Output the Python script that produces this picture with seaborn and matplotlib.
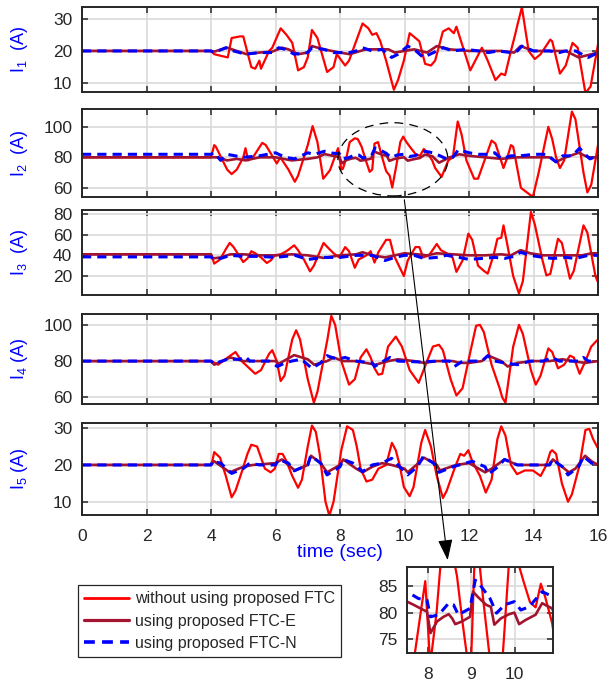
import matplotlib
matplotlib.use("Agg")
import matplotlib.pyplot as plt
import matplotlib.patches as mpatches
from matplotlib.lines import Line2D
import pandas as pd
import seaborn as sns

# --- data: (time [s], current [A]) -------------------------------------------
time_ticks = [0, 2, 4, 6, 8, 10, 12, 14, 16]
methods = ["without using proposed FTC", "using proposed FTC-E", "using proposed FTC-N"]

red_1 = [(0, 20), (4.0, 20), (4.1, 19), (4.3, 18.5), (4.52, 18), (4.64, 24), (4.9, 24.5), (5.0, 24.5),
         (5.25, 15), (5.37, 14.5), (5.5, 17), (5.55, 14.5), (5.8, 20), (5.9, 21), (6.16, 27), (6.34, 25),
         (6.52, 22.5), (6.7, 14), (6.88, 15), (7.0, 18), (7.13, 26.5), (7.3, 24), (7.6, 13.5), (7.8, 15),
         (7.9, 19), (8.16, 15.5), (8.28, 17), (8.7, 28.5), (8.88, 27), (9.0, 25), (9.13, 25.5), (9.25, 23),
         (9.43, 17), (9.67, 8), (9.8, 11), (9.98, 17), (10.16, 25.5), (10.34, 24), (10.46, 23), (10.64, 16),
         (10.82, 15.5), (10.95, 17), (11.19, 26), (11.37, 27), (11.53, 25.5), (11.61, 27.5), (11.85, 20),
         (12.04, 14), (12.4, 21), (12.58, 17), (12.82, 11), (13.0, 13), (13.12, 12.5), (13.3, 20), (13.43, 25),
         (13.5, 28), (13.64, 33.5), (13.85, 20), (14.04, 17.5), (14.22, 19), (14.52, 23.5), (14.58, 23),
         (14.82, 13), (15.0, 15.5), (15.21, 22.5), (15.37, 21), (15.61, 7), (15.77, 9), (16.0, 22)]
darkred_1 = [(0, 20), (4.0, 20), (4.1, 19.8), (4.5, 21), (4.8, 20), (5.1, 19), (5.5, 19.5), (5.9, 19.8),
             (6.2, 21), (6.4, 20.5), (6.7, 19), (7.0, 19.5), (7.13, 21.5), (7.5, 20.5), (8.0, 19.5), (8.3, 19),
             (8.8, 20.5), (9.1, 20.5), (9.5, 20.5), (9.7, 19.5), (10.0, 20), (10.3, 20.5), (10.7, 19.5),
             (11.0, 21.5), (11.4, 20.5), (12.0, 20), (12.5, 20), (13.0, 20), (13.4, 19.5), (13.6, 21.5),
             (14.0, 20), (14.6, 20), (15.0, 20), (15.4, 18), (15.6, 18.5), (16, 19.5)]
blue_1 = [(0, 20), (4.0, 20), (4.1, 19.5), (4.46, 21), (4.7, 20), (5.07, 19), (5.5, 19.5), (5.9, 19.5),
          (6.1, 21), (6.3, 20.5), (6.58, 19), (7.0, 19.5), (7.13, 21), (7.5, 20.5), (7.8, 19.5), (8.3, 19.5),
          (8.5, 20), (8.7, 21), (9.0, 20), (9.3, 20.5), (9.6, 18), (9.8, 19), (10.1, 21.5), (10.3, 20.5),
          (10.58, 18), (10.9, 19.5), (11.2, 21), (11.5, 20), (11.9, 20.5), (12.3, 20), (12.6, 19.5),
          (12.9, 20), (13.3, 19.5), (13.5, 20), (13.64, 21.5), (14.0, 20), (14.5, 20), (14.8, 19.5),
          (15.0, 20), (15.3, 20), (15.5, 19), (15.7, 18), (16, 19.5)]

red_2 = [(0, 80), (4.0, 80), (4.1, 88), (4.15, 87), (4.5, 72), (4.64, 69), (4.8, 72), (5.0, 80), (5.07, 86),
         (5.15, 78), (5.3, 80), (5.59, 89.5), (5.7, 88), (6.04, 76), (6.15, 80), (6.4, 72), (6.6, 64),
         (6.7, 68), (7.0, 88), (7.15, 100.5), (7.3, 90), (7.48, 66), (7.69, 71.6), (7.8, 78), (7.94, 86),
         (8.04, 72), (8.09, 72.5), (8.2, 80), (8.3, 90), (8.46, 92.5), (8.55, 92), (8.67, 87), (8.8, 78),
         (8.92, 70.5), (9.0, 72), (9.07, 89), (9.18, 90), (9.28, 82), (9.43, 71), (9.54, 68), (9.62, 60.2),
         (9.75, 75), (9.87, 90), (9.96, 93.6), (10.06, 90), (10.2, 86), (10.35, 82), (10.48, 81),
         (10.6, 85.5), (10.7, 83), (10.86, 78), (10.95, 73), (11.15, 67.2), (11.36, 78), (11.5, 80),
         (11.65, 103.5), (11.77, 95), (11.92, 78), (12.16, 66), (12.28, 66), (12.7, 91), (12.82, 89),
         (13.07, 73), (13.19, 80), (13.3, 88), (13.37, 87), (13.61, 60), (13.98, 54), (14.16, 70),
         (14.46, 100), (14.58, 92), (14.7, 80), (14.82, 73), (14.95, 78), (15.19, 110), (15.3, 105),
         (15.55, 70), (15.67, 57), (15.79, 62), (16.0, 88)]
darkred_2 = [(0, 80), (4.0, 80), (4.2, 80), (4.5, 78), (4.8, 79), (5.07, 78), (5.5, 80), (6.0, 80), (6.5, 78),
             (7.0, 79), (7.3, 80), (7.52, 82.1), (7.67, 81.5), (7.9, 80.5), (7.98, 80.2), (8.06, 76.1),
             (8.21, 78.3), (8.36, 79.2), (8.48, 79.7), (8.56, 78.9), (8.63, 77.8), (8.78, 78.3), (8.97, 79.2),
             (9.04, 84), (9.15, 83), (9.34, 81.5), (9.45, 81.1), (9.53, 77.7), (9.68, 78.9), (9.87, 79.7),
             (9.99, 80), (10.1, 77.8), (10.25, 78.6), (10.48, 79.6), (10.63, 81.8), (10.74, 81.3),
             (10.86, 80.8), (11.07, 76.5), (11.4, 80), (11.7, 82), (12.0, 81), (12.5, 80), (13.0, 79),
             (13.5, 80), (14.0, 80), (14.5, 80), (14.7, 77), (15.0, 80), (15.4, 83), (15.7, 80), (16, 80)]
blue_2 = [(0, 82), (4.0, 82), (4.1, 83), (4.3, 78), (4.5, 82), (5.0, 80), (5.5, 81), (6.0, 83), (6.3, 80),
          (6.6, 79), (7.0, 83), (7.2, 82), (7.52, 84), (7.78, 82.7), (7.98, 82.4), (8.06, 79.2), (8.25, 79.6),
          (8.48, 81.8), (8.59, 81.5), (8.7, 79.6), (8.97, 80.8), (9.09, 86.2), (9.2, 85.3), (9.43, 82.7),
          (9.58, 79.9), (9.77, 81.5), (9.99, 82.1), (10.14, 80.5), (10.33, 81.1), (10.63, 84), (10.86, 83.1),
          (11.0, 82), (11.3, 79), (11.5, 80), (11.67, 85), (12.0, 83), (12.3, 82), (12.6, 82), (12.8, 83),
          (13.0, 79), (13.3, 81), (13.6, 81), (14.0, 82), (14.4, 82), (14.7, 77), (14.9, 81), (15.2, 81),
          (15.43, 86), (15.6, 82), (15.75, 79), (16, 81)]

red_3 = [(0, 41), (4.0, 41), (4.04, 38), (4.1, 32), (4.28, 36), (4.46, 46), (4.58, 52), (4.7, 48), (5.0, 33.5),
         (5.13, 37), (5.25, 44), (5.37, 42), (5.55, 38), (5.73, 32.6), (5.85, 35), (5.98, 40), (6.16, 41),
         (6.34, 44), (6.58, 49.7), (6.7, 45), (6.88, 36), (7.07, 24.5), (7.19, 30), (7.49, 52), (7.61, 48),
         (7.8, 42), (7.98, 38), (8.16, 48), (8.28, 44), (8.46, 28), (8.58, 36), (8.82, 40), (8.95, 44),
         (9.07, 33), (9.19, 43), (9.43, 55), (9.55, 55), (9.67, 40), (9.98, 20), (10.1, 35), (10.34, 48),
         (10.46, 48), (10.58, 38), (10.76, 40), (11.0, 51), (11.13, 45), (11.31, 42), (11.49, 38),
         (11.61, 24), (11.8, 35), (11.98, 61), (12.1, 55), (12.28, 30), (12.46, 25), (12.58, 22.3),
         (12.76, 40), (12.88, 56), (13.0, 57), (13.07, 69), (13.19, 50), (13.37, 20), (13.55, 3),
         (13.67, 15), (13.92, 82), (14.04, 70), (14.28, 35), (14.4, 20.6), (14.52, 22), (14.76, 56),
         (14.88, 52), (15.13, 17.4), (15.25, 25), (15.55, 69), (15.67, 62), (15.92, 20), (16.0, 14)]
darkred_3 = [(0, 41), (4.0, 41), (4.05, 37), (4.3, 38), (4.6, 41), (5.0, 41), (5.5, 40), (6.0, 40), (6.5, 41),
             (7.0, 40), (7.5, 37.5), (8.0, 40), (8.5, 41), (8.7, 43), (9.0, 40), (9.4, 38), (9.7, 40),
             (10.0, 42), (10.4, 41), (10.7, 40), (11.0, 42), (11.5, 41), (12.0, 40), (12.5, 40), (13.0, 41),
             (13.3, 40), (13.6, 45), (13.9, 42), (14.3, 40), (14.7, 40), (15.0, 40), (15.5, 40), (15.8, 42),
             (16, 42)]
blue_3 = [(0, 38.5), (4.0, 38.5), (4.1, 36), (4.3, 37), (4.6, 40), (5.0, 39), (5.5, 39), (6.0, 38), (6.6, 40),
          (7.0, 36), (7.5, 38), (8.0, 38), (8.5, 40), (9.0, 40), (9.4, 35), (9.7, 38), (10.0, 40), (10.3, 40),
          (10.6, 37), (11.0, 38), (11.3, 40), (11.7, 38), (12.0, 36), (12.4, 37), (12.8, 38), (13.1, 37),
          (13.4, 39), (13.6, 43), (13.9, 40), (14.3, 38), (14.6, 37), (15.0, 38), (15.3, 37), (15.7, 40),
          (16, 40)]

red_4 = [(0, 80), (4.0, 80), (4.22, 78), (4.52, 82), (4.76, 85), (4.95, 80), (5.07, 78), (5.19, 76),
         (5.37, 73), (5.55, 75), (5.8, 84), (5.9, 86), (6.04, 80), (6.16, 69), (6.28, 72), (6.52, 92),
         (6.64, 97), (6.76, 92), (7.0, 70), (7.19, 57), (7.3, 63), (7.61, 92), (7.73, 105), (7.85, 100),
         (8.04, 80), (8.28, 67), (8.46, 70), (8.64, 82), (8.82, 86.5), (8.95, 82), (9.07, 76), (9.19, 72.5),
         (9.31, 73), (9.49, 88), (9.73, 93.5), (9.92, 88), (10.16, 75), (10.44, 68), (10.7, 80), (10.88, 88),
         (11.07, 89), (11.19, 86), (11.43, 70), (11.61, 61), (11.8, 65), (12.04, 85), (12.22, 99.5),
         (12.34, 100), (12.46, 96), (12.7, 78), (12.95, 65), (13.03, 60), (13.13, 57), (13.37, 88),
         (13.55, 100), (13.67, 95), (13.92, 75), (14.07, 67), (14.22, 72), (14.46, 87), (14.58, 85),
         (14.76, 76), (14.95, 78), (15.13, 83), (15.25, 82), (15.43, 73), (15.61, 80), (15.79, 88), (16.0, 92)]
darkred_4 = [(0, 80), (4.0, 80), (4.1, 78), (4.6, 82), (5.0, 80), (6.0, 80), (6.1, 78.5), (6.58, 83.3),
             (7.0, 81), (7.2, 78), (7.6, 80), (7.8, 82), (8.1, 80), (8.5, 80), (9.1, 78), (9.5, 80), (9.8, 81),
             (10.3, 80), (10.6, 79), (11.0, 80), (11.5, 80), (11.7, 79), (12.0, 79), (12.4, 80), (12.6, 83),
             (13.0, 80), (13.2, 77), (13.5, 79), (14.0, 80), (14.5, 80), (14.9, 81), (15.2, 80), (15.6, 79),
             (16, 80)]
blue_4 = [(0, 80), (4.0, 80), (4.1, 78.5), (4.5, 81), (4.9, 81), (5.07, 82.5), (5.2, 80), (5.8, 80),
          (6.06, 77), (6.3, 79), (6.5, 80), (6.8, 81), (7.0, 78), (7.13, 76), (7.4, 79), (7.6, 83), (7.9, 81),
          (8.16, 82), (8.5, 80), (9.0, 79), (9.07, 77), (9.3, 79.5), (9.55, 82), (9.8, 80), (10.5, 79.5),
          (11.0, 80), (11.4, 80), (11.55, 77), (11.8, 80), (12.4, 80), (12.58, 83), (12.8, 80), (13.1, 79),
          (13.5, 78), (13.9, 80), (14.3, 80), (14.58, 82), (14.8, 80), (15.1, 80), (15.4, 80), (15.55, 82),
          (15.7, 80), (16, 80)]

red_5 = [(0, 20), (4.0, 20), (4.04, 21), (4.1, 23.5), (4.28, 22), (4.46, 17), (4.64, 11.2), (4.76, 13),
         (4.95, 18), (5.13, 23), (5.25, 25.5), (5.43, 25), (5.55, 22), (5.67, 19), (5.85, 18), (5.98, 19),
         (6.1, 23), (6.22, 23), (6.34, 21), (6.52, 17), (6.7, 13.8), (6.82, 16), (7.0, 25), (7.13, 30.7),
         (7.25, 29), (7.37, 23), (7.55, 10), (7.67, 6.2), (7.8, 10), (8.04, 24), (8.22, 30.5), (8.4, 29.5),
         (8.52, 25), (8.64, 19), (8.82, 15.5), (9.0, 16), (9.19, 19), (9.43, 20), (9.55, 24), (9.61, 26),
         (9.73, 24), (9.85, 20), (9.98, 14), (10.16, 11.5), (10.28, 14), (10.52, 26), (10.64, 29.5),
         (10.82, 25), (11.0, 17), (11.19, 11), (11.31, 13), (11.55, 19), (11.73, 23), (11.85, 22.5),
         (11.98, 24), (12.1, 21), (12.34, 17), (12.52, 12.5), (12.7, 16), (12.88, 27), (13.0, 30.5),
         (13.13, 28), (13.3, 20), (13.49, 17.5), (13.73, 18.5), (13.98, 18.5), (14.22, 17), (14.4, 20),
         (14.52, 23.5), (14.58, 24), (14.7, 23), (14.88, 15), (15.07, 10), (15.19, 12), (15.43, 20),
         (15.61, 29.5), (15.73, 29.8), (15.85, 27), (16.0, 24.5)]
darkred_5 = [(0, 20), (4.0, 20), (4.1, 21), (4.58, 18), (5.0, 19.5), (5.3, 20), (6.0, 20.5), (6.2, 21.5),
             (6.6, 18.5), (7.0, 20), (7.1, 22.5), (7.4, 20.5), (7.6, 18), (8.0, 20), (8.1, 21.5), (8.5, 19),
             (8.7, 18), (9.0, 19.5), (9.3, 20.5), (9.6, 20), (10.0, 19), (10.1, 18), (10.5, 21), (10.6, 22),
             (11.0, 20), (11.1, 18.5), (11.6, 20), (12.0, 20.5), (12.5, 18), (12.7, 19), (13.1, 21.5),
             (13.5, 20), (14.5, 20), (14.6, 21.5), (15.1, 18), (15.3, 19), (15.6, 22.5), (15.8, 21), (16, 20)]
blue_5 = [(0, 20), (4.0, 20), (4.04, 21), (4.3, 20.5), (4.64, 17.7), (5.0, 19), (5.2, 20.5), (5.5, 20),
          (6.0, 20), (6.1, 21.5), (6.4, 20.5), (6.58, 18.4), (7.0, 20), (7.09, 22.5), (7.4, 20.5), (7.6, 17.3),
          (8.0, 19.5), (8.1, 21.5), (8.4, 20.5), (8.7, 18.2), (9.0, 20), (9.3, 20.5), (9.6, 21.8), (9.8, 20),
          (10.1, 17.3), (10.4, 19.5), (10.58, 22.3), (10.9, 20.5), (11.07, 18), (11.5, 19.5), (11.9, 20.5),
          (12.1, 21), (12.5, 19.5), (12.6, 17.5), (12.9, 19.5), (13.1, 21.5), (13.5, 20), (14.0, 20),
          (14.5, 20), (14.58, 21.5), (14.9, 19.5), (15.07, 17.3), (15.4, 19.5), (15.55, 22.3), (15.8, 20.5),
          (16, 20)]

panels = [
    # (series, ylabel, yticks, ylim)
    ((red_1, darkred_1, blue_1), "I$_1$  (A)", [10, 20, 30], (7.3, 33.6)),
    ((red_2, darkred_2, blue_2), "I$_2$  (A)", [60, 80, 100], (54, 111.7)),
    ((red_3, darkred_3, blue_3), "I$_3$  (A)", [20, 40, 60, 80], (1.6, 83.9)),
    ((red_4, darkred_4, blue_4), "I$_4$ (A)", [60, 80, 100], (56.3, 106)),
    ((red_5, darkred_5, blue_5), "I$_5$ (A)", [10, 20, 30], (6.4, 31.4)),
]
inset_xticks = [8, 9, 10]
inset_yticks = [75, 80, 85]

# --- style -------------------------------------------------------------------
sns.set_style("ticks")
plt.rcParams["font.family"] = ["Liberation Sans", "DejaVu Sans"]
plt.rcParams["mathtext.fontset"] = "custom"
plt.rcParams["mathtext.rm"] = "Liberation Sans"
plt.rcParams["mathtext.it"] = "Liberation Sans"

FG = "#262626"
palette = {methods[0]: "#ff0000", methods[1]: "#a2142f", methods[2]: "#0000ff"}
widths = {methods[0]: 1.6, methods[1]: 1.9, methods[2]: 2.2}
dashes = {methods[0]: "", methods[1]: "", methods[2]: (3, 2)}

W, H = 614, 683
fig = plt.figure(figsize=(W / 100, H / 100), dpi=100)


def px_axes(x0, y_top, x1, y_bot):
    return fig.add_axes([x0 / W, 1 - y_bot / H, (x1 - x0) / W, (y_bot - y_top) / H])


def to_frame(series):
    rows = []
    for name, pts in zip(methods, series):
        for t, v in pts:
            rows.append({"time": t, "current": v, "method": name})
    return pd.DataFrame(rows)


def style_axes(ax, fs=12.5):
    ax.grid(True, color="#dadada", lw=1.2)
    ax.set_axisbelow(True)
    for sp in ax.spines.values():
        sp.set_color(FG)
        sp.set_linewidth(1.4)
    ax.tick_params(direction="in", top=True, right=True, length=4.5, width=1.1, color=FG,
                   labelcolor=FG, labelsize=fs)
    ax.tick_params(axis="x", pad=10)
    ax.tick_params(axis="y", pad=7)


def draw(ax, df):
    sns.lineplot(data=df, x="time", y="current", hue="method", size="method", style="method",
                 palette=palette, sizes=widths, dashes=dashes, estimator=None, sort=False,
                 legend=False, ax=ax)


panel_px = [(7, 92), (109, 197), (210, 295), (314, 404), (423, 515)]
axes = []
for (series, ylabel, yticks, ylim), (top, bot) in zip(panels, panel_px):
    ax = px_axes(82, top, 598, bot)
    draw(ax, to_frame(series))
    ax.set_xlim(0, 16)
    ax.set_ylim(*ylim)
    ax.set_xticks(time_ticks)
    ax.set_yticks(yticks)
    style_axes(ax)
    ax.set_xlabel("")
    ax.set_ylabel(ylabel, color="#0000ff", fontsize=13)
    ax.yaxis.set_label_coords(-0.1, 0.5)
    axes.append(ax)

for ax in axes[:-1]:
    ax.tick_params(labelbottom=False)
axes[-1].set_xlabel("time (sec)", color="#0000ff", fontsize=14, labelpad=0)

# dashed ellipse marking the zoomed region on I2
axes[1].add_patch(mpatches.Ellipse((9.64, 78.7), 3.41, 48, fill=False, ls=(0, (7, 5)),
                                   lw=0.9, color="black", clip_on=False, zorder=5))

# inset with zoomed I2
inset = px_axes(407, 567, 553, 653)
draw(inset, to_frame(panels[1][0]))
inset.set_xlim(7.52, 10.88)
inset.set_ylim(72.3, 88.7)
inset.set_xticks(inset_xticks)
inset.set_yticks(inset_yticks)
style_axes(inset)
inset.set_xlabel("")
inset.set_ylabel("")

# arrow from ellipse to inset
fig.add_artist(mpatches.FancyArrowPatch((404 / W, 1 - 197 / H), (448 / W, 1 - 563 / H),
                                        transform=fig.transFigure,
                                        arrowstyle="-|>,head_length=0.8,head_width=0.28",
                                        mutation_scale=16, lw=0.8, color="black", zorder=10))

# legend
handles = [Line2D([], [], color=palette[m], lw=widths[m] + 0.4,
                  ls="-" if m != methods[2] else (0, (3, 2))) for m in methods]
fig.legend(handles, methods, loc="upper left", bbox_to_anchor=(78 / W, 1 - 585 / H),
           frameon=True, fancybox=False, edgecolor=FG, framealpha=1, fontsize=11.5,
           handlelength=2.8, handletextpad=0.35, labelspacing=0.45, borderpad=0.4,
           borderaxespad=0).get_frame().set_linewidth(0.9)

fig.savefig("out.png", dpi=100)
